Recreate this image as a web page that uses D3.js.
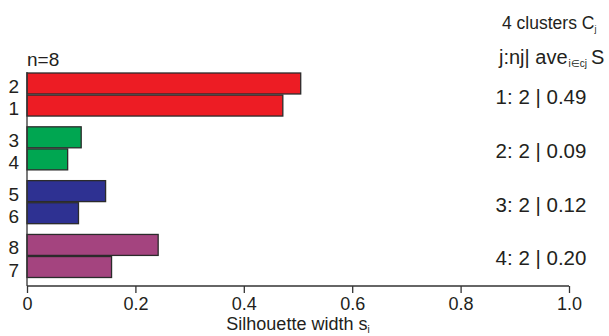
<!DOCTYPE html>
<html>
<head>
<meta charset="utf-8">
<script src="https://cdn.jsdelivr.net/npm/d3@7"></script>
<style>
body { margin: 0; background: #fff; }
text { font-family: "Liberation Sans", Arial, sans-serif; fill: #231f20; }
</style>
</head>
<body>
<div id="chart"></div>
<script>
// silhouette widths, listed in plotting order (top to bottom)
let clusters = [1, 2, 3, 4];
let obsLabels = [[2, 1], [3, 4], [5, 6], [8, 7]];
let silValues = [[0.505, 0.472], [0.100, 0.075], [0.145, 0.095], [0.242, 0.156]];
let clusterSize = [2, 2, 2, 2];
let clusterAve = ["0.49", "0.09", "0.12", "0.20"];
let xTicks = [0, 0.2, 0.4, 0.6, 0.8, 1.0];
let palette = ["#ed1c24", "#00a651", "#2e3192", "#a4447f"];

let width = 609, height = 336;
let svg = d3.select("#chart").append("svg")
    .attr("width", width).attr("height", height);

let x = d3.scaleLinear().domain([0, 1]).range([27, 569]);
let yCluster = d3.scaleBand().domain(clusters).range([73, 277.5]).paddingInner(0.2).paddingOuter(0);
let yBar = d3.scaleBand().domain([0, 1]).range([0, yCluster.bandwidth()]).paddingInner(0.05);

let axisY = 286;

// bars
clusters.forEach(function(c, i){
    let g = svg.append("g").attr("transform", "translate(0," + yCluster(c) + ")");
    g.selectAll("rect").data(silValues[i]).enter()
        .append("rect")
        .attr("x", x(0))
        .attr("y", function(d, j){ return yBar(j); })
        .attr("width", function(d){ return x(d) - x(0); })
        .attr("height", yBar.bandwidth())
        .attr("fill", palette[i])
        .attr("stroke", "#2b2b2b")
        .attr("stroke-width", 1.3);
    g.selectAll("text").data(obsLabels[i]).enter()
        .append("text")
        .attr("x", 19)
        .attr("y", function(d, j){ return yBar(j) + yBar.bandwidth() / 2 + 3; })
        .attr("text-anchor", "end")
        .attr("dominant-baseline", "central")
        .attr("font-size", 19)
        .text(function(d){ return d; });

    svg.append("text")
        .attr("x", 541)
        .attr("y", yCluster(c) + yCluster.bandwidth() / 2 + 2)
        .attr("text-anchor", "middle")
        .attr("dominant-baseline", "central")
        .attr("font-size", 20.5)
        .text(c + ": " + clusterSize[i] + " | " + clusterAve[i]);
});

// y axis line
svg.append("line")
    .attr("x1", x(0)).attr("x2", x(0))
    .attr("y1", 72).attr("y2", axisY)
    .attr("stroke", "#333").attr("stroke-width", 1.3);

// x axis
let xAxis = svg.append("g").attr("transform", "translate(0," + axisY + ")")
    .call(d3.axisBottom(x).tickValues(xTicks).tickSize(7).tickPadding(4)
        .tickFormat(function(d){ return d === 0 ? "0" : d === 1 ? "1.0" : d3.format(".1f")(d); }));
xAxis.select(".domain").attr("stroke", "#333").attr("stroke-width", 1.3).attr("d", "M" + x(0) + ",0H" + x(1));
xAxis.selectAll(".tick line").attr("stroke", "#333").attr("stroke-width", 1.3);
xAxis.selectAll(".tick text")
    .attr("font-size", 18)
    .attr("font-family", "Liberation Sans, Arial, sans-serif")
    .attr("fill", "#231f20");

// axis title
let xt = svg.append("text")
    .attr("x", 298).attr("y", 330)
    .attr("text-anchor", "middle")
    .attr("font-size", 18);
xt.append("tspan").text("Silhouette width s");
xt.append("tspan").attr("font-size", 10).attr("dy", 3).text("i");

// n label
svg.append("text").attr("x", 27).attr("y", 66).attr("font-size", 19).text("n=8");

// right header
let h1 = svg.append("text").attr("x", 502).attr("y", 29).attr("font-size", 17.5);
h1.append("tspan").text("4 clusters C");
h1.append("tspan").attr("font-size", 9).attr("dy", 3).text("j");

let h2 = svg.append("text").attr("x", 499).attr("y", 64).attr("font-size", 20);
h2.append("tspan").text("j:nj| ave");
h2.append("tspan").attr("font-size", 10).attr("dy", 3).attr("dx", 1).text("i∈cj");
h2.append("tspan").attr("dy", -3).attr("dx", 4).text("S");
</script>
</body>
</html>
